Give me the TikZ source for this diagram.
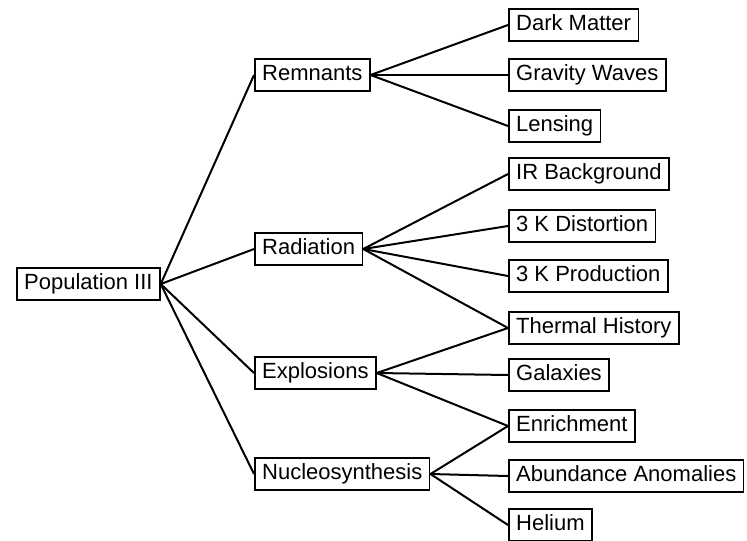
\documentclass[tikz,border=0pt]{standalone}
\usepackage{fontspec}
\setmainfont{Liberation Sans}
\begin{document}
\begin{tikzpicture}[x=0.5pt,y=-0.5pt,
    box/.style={draw,line width=0.75pt,anchor=west,inner xsep=3.7pt,
      minimum height=16.2pt,text height=0.72em,text depth=0.15em,
      font=\fontsize{11}{13}\selectfont},
    link/.style={line width=1pt}]
  \useasboundingbox (0,0) rectangle (747,540);

  % root and the four branches
  \node[box] (pop) at (16,284) {Population III};
  \node[box] (rem) at (254,75) {Remnants};
  \node[box] (rad) at (254,249) {Radiation};
  \node[box] (exp) at (254,373) {Explosions};
  \node[box] (nuc) at (254,474) {Nucleosynthesis};

  % leaves
  \node[box] (dm)  at (508,25)  {Dark Matter};
  \node[box] (gw)  at (508,75)  {Gravity Waves};
  \node[box] (len) at (508,126) {Lensing};
  \node[box] (ir)  at (508,174) {IR Background};
  \node[box] (dis) at (508,226) {3 K Distortion};
  \node[box] (pro) at (508,276) {3 K Production};
  \node[box] (th)  at (508,328) {Thermal History};
  \node[box] (gal) at (508,375) {Galaxies};
  \node[box] (enr) at (508,426) {Enrichment};
  \node[box] (ab)  at (508,476) {Abundance Anomalies};
  \node[box] (he)  at (508,525) {Helium};

  \foreach \a/\b in {pop/rem,pop/rad,pop/exp,pop/nuc,
                     rem/dm,rem/gw,rem/len,
                     rad/ir,rad/dis,rad/pro,rad/th,
                     exp/th,exp/gal,exp/enr,
                     nuc/enr,nuc/ab,nuc/he}
  {
    \draw[link] (\a.east) -- (\b.west);
  }
\end{tikzpicture}
\end{document}
